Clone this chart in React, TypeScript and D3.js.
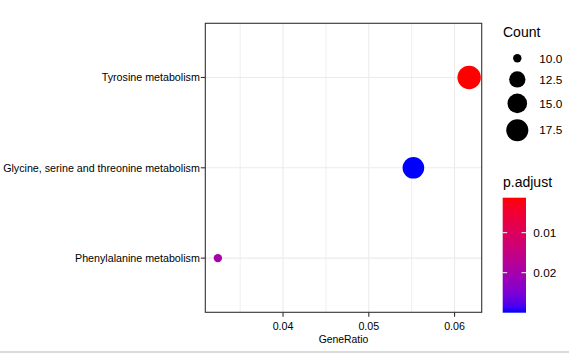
import React from "react";
import * as d3 from "d3";

const categories = [
  "Tyrosine metabolism",
  "Glycine, serine and threonine metabolism",
  "Phenylalanine metabolism",
];
const geneRatio = [0.0617, 0.0552, 0.0324];
const counts = [19, 17, 10];
const pAdjust = [0.00125, 0.03, 0.0195];
const xTicks = [0.04, 0.05, 0.06];
const xMinorTicks = [0.035, 0.045, 0.055];
const sizeBreaks = [10, 12.5, 15, 17.5];
const colorBreaks = [0.01, 0.02];

const FONT = "'Liberation Sans', Arial, sans-serif";
const W = 569;
const H = 353;
const panel = { left: 205.3, right: 481.7, top: 23.3, bottom: 312.3 };

export default function App() {
  const xMin = d3.min(geneRatio)!;
  const xMax = d3.max(geneRatio)!;
  const pad = (xMax - xMin) * 0.05;
  const x = d3.scaleLinear().domain([xMin - pad, xMax + pad]).range([panel.left, panel.right]);
  const y = d3.scalePoint<string>().domain(categories).range([panel.top, panel.bottom]).padding(0.6);

  const cMin = d3.min(counts)!;
  const cMax = d3.max(counts)!;
  const sizeT = d3.scaleLinear().domain([cMin, cMax]).range([0, 1]);
  const rScale = d3.scaleLinear().domain([0, 1]).range([4.2, 11.7]);
  const r = (v: number) => rScale(Math.sqrt(Math.max(0, sizeT(v))));

  const pMin = d3.min(pAdjust)!;
  const pMax = d3.max(pAdjust)!;
  const color = d3.scaleLinear<string>().domain([pMin, pMax]).range(["red", "blue"]).interpolate(d3.interpolateLab);

  // legend: size keys stacked
  const keyX = 517.3;
  let cursor = 48.3;
  const keyCenters = sizeBreaks.map((b) => {
    const h = Math.max(20, 2 * r(b) + 6);
    const c = cursor + h / 2;
    cursor += h;
    return c;
  });

  const bar = { left: 502.7, right: 526, top: 197.7, bottom: 312.7 };
  const barY = d3.scaleLinear().domain([pMin, pMax]).range([bar.top, bar.bottom]);
  const stops = d3.range(0, 21).map((i) => i / 20);

  return (
    <svg width={W} height={H} style={{ position: "absolute", left: 0, top: 0, background: "#fff" }} fontFamily={FONT}>
      <rect x={0} y={0} width={W} height={H} fill="#fff" />
      <defs>
        <linearGradient id="pgrad" x1="0" y1="0" x2="0" y2="1">
          {stops.map((t) => (
            <stop key={t} offset={t} stopColor={color(pMin + t * (pMax - pMin))} />
          ))}
        </linearGradient>
      </defs>
      {/* grid */}
      {xMinorTicks.map((t) => (
        <line key={"m" + t} x1={x(t)} x2={x(t)} y1={panel.top} y2={panel.bottom} stroke="#ebebeb" strokeWidth={0.8} />
      ))}
      {xTicks.map((t) => (
        <line key={"M" + t} x1={x(t)} x2={x(t)} y1={panel.top} y2={panel.bottom} stroke="#ebebeb" strokeWidth={1.1} />
      ))}
      {categories.map((c) => (
        <line key={"h" + c} x1={panel.left} x2={panel.right} y1={y(c)} y2={y(c)} stroke="#ebebeb" strokeWidth={1.1} />
      ))}
      {/* points */}
      {categories.map((c, i) => (
        <circle key={"p" + c} cx={x(geneRatio[i])} cy={y(c)} r={r(counts[i])} fill={color(pAdjust[i])} />
      ))}
      {/* panel border */}
      <rect x={panel.left} y={panel.top} width={panel.right - panel.left} height={panel.bottom - panel.top} fill="none" stroke="#333" strokeWidth={1.1} />
      {/* y axis */}
      {categories.map((c) => (
        <g key={"y" + c}>
          <line x1={panel.left - 4.5} x2={panel.left} y1={y(c)} y2={y(c)} stroke="#333" strokeWidth={1.1} />
          <text x={panel.left - 5.5} y={y(c)! + 3.8} textAnchor="end" fontSize={10.7} fill="#000">
            {c}
          </text>
        </g>
      ))}
      {/* x axis */}
      {xTicks.map((t) => (
        <g key={"x" + t}>
          <line x1={x(t)} x2={x(t)} y1={panel.bottom} y2={panel.bottom + 4.5} stroke="#333" strokeWidth={1.1} />
          <text x={x(t)} y={329.5} textAnchor="middle" fontSize={10.7} fill="#000">
            {d3.format(".2f")(t)}
          </text>
        </g>
      ))}
      <text x={(panel.left + panel.right) / 2} y={343} textAnchor="middle" fontSize={10.4} fill="#000">
        GeneRatio
      </text>
      {/* size legend */}
      <text x={503} y={37} fontSize={14} fill="#000">Count</text>
      {sizeBreaks.map((b, i) => (
        <g key={"s" + b}>
          <circle cx={keyX} cy={keyCenters[i]} r={r(b)} fill="#000" />
          <text x={539.3} y={keyCenters[i] + 4.2} fontSize={11.8} fill="#000">
            {d3.format(".1f")(b)}
          </text>
        </g>
      ))}
      {/* color legend */}
      <text x={503} y={187} fontSize={14} fill="#000">p.adjust</text>
      <rect x={bar.left} y={bar.top} width={bar.right - bar.left} height={bar.bottom - bar.top} fill="url(#pgrad)" />
      {colorBreaks.map((b) => (
        <g key={"c" + b}>
          <line x1={bar.left} x2={bar.left + 4.5} y1={barY(b)} y2={barY(b)} stroke="#fff" strokeWidth={1} />
          <line x1={bar.right - 4.5} x2={bar.right} y1={barY(b)} y2={barY(b)} stroke="#fff" strokeWidth={1} />
          <text x={533.3} y={barY(b) + 4.2} fontSize={11.8} fill="#000">
            {String(b)}
          </text>
        </g>
      ))}
      <rect x={0} y={351} width={W} height={2} fill="#dadada" />
    </svg>
  );
}
